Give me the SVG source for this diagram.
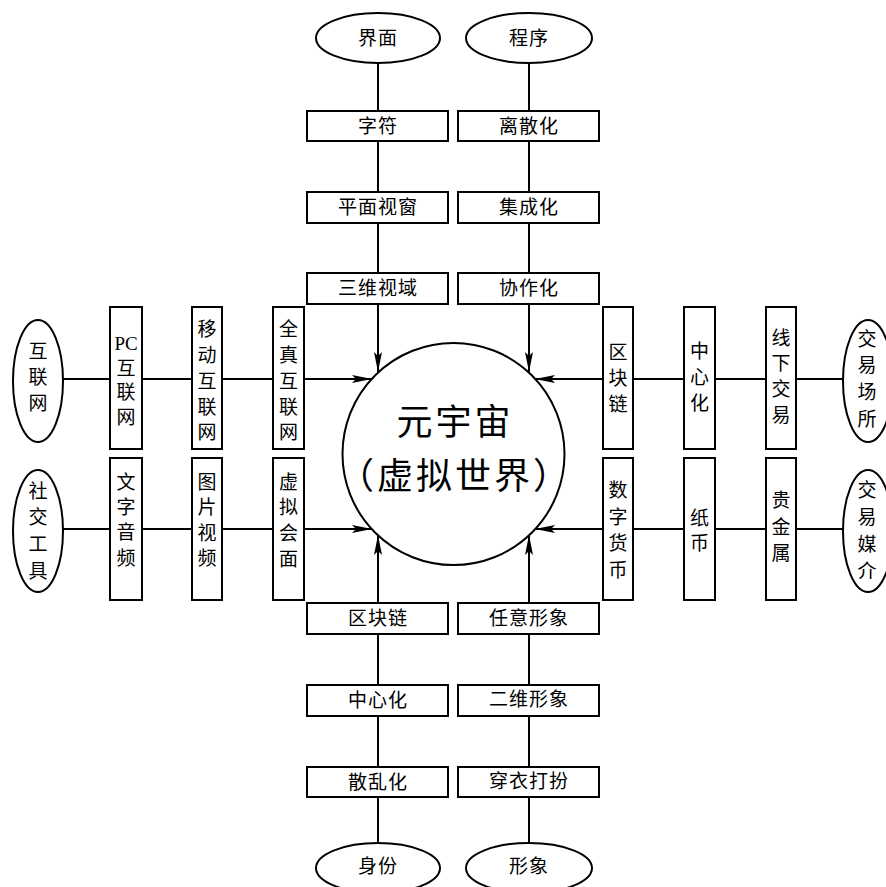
<svg xmlns="http://www.w3.org/2000/svg" width="886" height="887" viewBox="0 0 886 887">
<defs>
<style>
.s{fill:#fff;stroke:#000;stroke-width:2}
.c{stroke:#000;stroke-width:2;fill:none}
text{font-family:"Liberation Serif","Noto Sans CJK SC",serif;fill:#000;text-anchor:middle;dominant-baseline:central}
.t{font-size:19px;letter-spacing:1px}
.v{font-size:19px}
.big{font-size:36px;letter-spacing:3px}
</style>
<marker id="ar" viewBox="0 0 20 8" refX="20" refY="4" markerWidth="20" markerHeight="8" markerUnits="userSpaceOnUse" orient="auto">
<path d="M0,0 L20,4 L0,8 L4,4 Z" fill="#000"/>
</marker>
</defs>
<rect width="886" height="887" fill="#fff"/>
<g id="connectors">
<line class="c" x1="378" y1="63" x2="378" y2="111"/>
<line class="c" x1="378" y1="141" x2="378" y2="192"/>
<line class="c" x1="378" y1="223" x2="378" y2="273"/>
<line class="c" x1="378" y1="304" x2="378" y2="372" marker-end="url(#ar)"/>
<line class="c" x1="529" y1="63" x2="529" y2="111"/>
<line class="c" x1="529" y1="141" x2="529" y2="192"/>
<line class="c" x1="529" y1="223" x2="529" y2="273"/>
<line class="c" x1="529" y1="304" x2="529" y2="372" marker-end="url(#ar)"/>
<line class="c" x1="378" y1="842" x2="378" y2="797"/>
<line class="c" x1="378" y1="767" x2="378" y2="716"/>
<line class="c" x1="378" y1="685" x2="378" y2="634"/>
<line class="c" x1="378" y1="603" x2="378" y2="535" marker-end="url(#ar)"/>
<line class="c" x1="529" y1="842" x2="529" y2="797"/>
<line class="c" x1="529" y1="767" x2="529" y2="716"/>
<line class="c" x1="529" y1="685" x2="529" y2="634"/>
<line class="c" x1="529" y1="603" x2="529" y2="535" marker-end="url(#ar)"/>
<line class="c" x1="63" y1="379" x2="110" y2="379"/>
<line class="c" x1="142" y1="379" x2="192" y2="379"/>
<line class="c" x1="222" y1="379" x2="273" y2="379"/>
<line class="c" x1="304" y1="379" x2="372" y2="379" marker-end="url(#ar)"/>
<line class="c" x1="63" y1="529" x2="110" y2="529"/>
<line class="c" x1="142" y1="529" x2="192" y2="529"/>
<line class="c" x1="222" y1="529" x2="273" y2="529"/>
<line class="c" x1="304" y1="529" x2="372" y2="529" marker-end="url(#ar)"/>
<line class="c" x1="843" y1="379" x2="796" y2="379"/>
<line class="c" x1="766" y1="379" x2="715" y2="379"/>
<line class="c" x1="684" y1="379" x2="633" y2="379"/>
<line class="c" x1="603" y1="379" x2="535" y2="379" marker-end="url(#ar)"/>
<line class="c" x1="843" y1="529" x2="796" y2="529"/>
<line class="c" x1="766" y1="529" x2="715" y2="529"/>
<line class="c" x1="684" y1="529" x2="633" y2="529"/>
<line class="c" x1="603" y1="529" x2="535" y2="529" marker-end="url(#ar)"/>
</g>
<g id="center">
<circle class="s" cx="453.5" cy="454" r="111"/>
<text class="big" x="455" y="423">元宇宙</text>
<text class="big" x="455" y="477">（虚拟世界）</text>
</g>
<!-- top -->
<g id="jiemian"><ellipse class="s" cx="378" cy="38" rx="62" ry="25"/><text class="t" x="378" y="38">界面</text></g>
<g id="chengxu"><ellipse class="s" cx="529" cy="38" rx="63" ry="25"/><text class="t" x="529" y="38">程序</text></g>
<g id="zifu"><rect class="s" x="307" y="111" width="141" height="30"/><text class="t" x="378" y="126">字符</text></g>
<g id="lisanhua"><rect class="s" x="458" y="111" width="141" height="30"/><text class="t" x="529" y="126">离散化</text></g>
<g id="pingmianshichuang"><rect class="s" x="307" y="192" width="141" height="31"/><text class="t" x="378" y="207">平面视窗</text></g>
<g id="jichenghua"><rect class="s" x="458" y="192" width="141" height="31"/><text class="t" x="529" y="207">集成化</text></g>
<g id="sanweishiyu"><rect class="s" x="307" y="273" width="141" height="31"/><text class="t" x="378" y="288">三维视域</text></g>
<g id="xiezuohua"><rect class="s" x="458" y="273" width="141" height="31"/><text class="t" x="529" y="288">协作化</text></g>
<!-- bottom -->
<g id="qukuailian-b"><rect class="s" x="307" y="603" width="141" height="31"/><text class="t" x="378" y="618">区块链</text></g>
<g id="renyixingxiang"><rect class="s" x="458" y="603" width="141" height="31"/><text class="t" x="529" y="618">任意形象</text></g>
<g id="zhongxinhua-b"><rect class="s" x="307" y="685" width="141" height="31"/><text class="t" x="378" y="700">中心化</text></g>
<g id="erweixingxiang"><rect class="s" x="458" y="685" width="141" height="31"/><text class="t" x="529" y="699">二维形象</text></g>
<g id="sanluanhua"><rect class="s" x="307" y="767" width="141" height="30"/><text class="t" x="378" y="782">散乱化</text></g>
<g id="chuanyidaban"><rect class="s" x="458" y="767" width="141" height="30"/><text class="t" x="529" y="781">穿衣打扮</text></g>
<g id="shenfen"><ellipse class="s" cx="378" cy="868" rx="62" ry="25"/><text class="t" x="378" y="866">身份</text></g>
<g id="xingxiang"><ellipse class="s" cx="529" cy="868" rx="63" ry="25"/><text class="t" x="529" y="866">形象</text></g>
<!-- left -->
<g id="hulianwang"><ellipse class="s" cx="38" cy="381" rx="25" ry="61"/><text class="v" x="38"><tspan x="38" y="351">互</tspan><tspan x="38" y="377">联</tspan><tspan x="38" y="403">网</tspan></text></g>
<g id="shejiaogongju"><ellipse class="s" cx="38" cy="531" rx="25" ry="61"/><text class="v"><tspan x="38" y="491">社</tspan><tspan x="38" y="517">交</tspan><tspan x="38" y="544">工</tspan><tspan x="38" y="571">具</tspan></text></g>
<g id="pchulianwang"><rect class="s" x="110" y="307" width="32" height="142"/><text class="v"><tspan x="126" y="343">PC</tspan><tspan x="126" y="368">互</tspan><tspan x="126" y="392">联</tspan><tspan x="126" y="417">网</tspan></text></g>
<g id="yidonghulianwang"><rect class="s" x="192" y="307" width="30" height="142"/><text class="v"><tspan x="207" y="329">移</tspan><tspan x="207" y="355">动</tspan><tspan x="207" y="381">互</tspan><tspan x="207" y="407">联</tspan><tspan x="207" y="432">网</tspan></text></g>
<g id="quanzhenhulianwang"><rect class="s" x="273" y="307" width="31" height="142"/><text class="v"><tspan x="288.5" y="329">全</tspan><tspan x="288.5" y="355">真</tspan><tspan x="288.5" y="381">互</tspan><tspan x="288.5" y="407">联</tspan><tspan x="288.5" y="432">网</tspan></text></g>
<g id="wenziyinpin"><rect class="s" x="110" y="458" width="32" height="142"/><text class="v"><tspan x="126" y="482">文</tspan><tspan x="126" y="507">字</tspan><tspan x="126" y="532">音</tspan><tspan x="126" y="558">频</tspan></text></g>
<g id="tupianshipin"><rect class="s" x="192" y="458" width="30" height="142"/><text class="v"><tspan x="207" y="482">图</tspan><tspan x="207" y="507">片</tspan><tspan x="207" y="533">视</tspan><tspan x="207" y="558">频</tspan></text></g>
<g id="xunihuimian"><rect class="s" x="273" y="458" width="31" height="142"/><text class="v"><tspan x="288.5" y="482">虚</tspan><tspan x="288.5" y="507">拟</tspan><tspan x="288.5" y="533">会</tspan><tspan x="288.5" y="559">面</tspan></text></g>
<!-- right -->
<g id="qukuailian-r"><rect class="s" x="603" y="307" width="30" height="142"/><text class="v"><tspan x="618" y="352">区</tspan><tspan x="618" y="378">块</tspan><tspan x="618" y="404">链</tspan></text></g>
<g id="zhongxinhua-r"><rect class="s" x="684" y="307" width="31" height="142"/><text class="v"><tspan x="699.5" y="351">中</tspan><tspan x="699.5" y="377">心</tspan><tspan x="699.5" y="403">化</tspan></text></g>
<g id="xianxiajiaoyi"><rect class="s" x="766" y="307" width="30" height="142"/><text class="v"><tspan x="781" y="338">线</tspan><tspan x="781" y="363">下</tspan><tspan x="781" y="389">交</tspan><tspan x="781" y="415">易</tspan></text></g>
<g id="jiaoyichangsuo"><ellipse class="s" cx="868" cy="381" rx="25" ry="61"/><text class="v"><tspan x="867" y="339">交</tspan><tspan x="867" y="365">易</tspan><tspan x="867" y="392">场</tspan><tspan x="867" y="419">所</tspan></text></g>
<g id="shuzihuobi"><rect class="s" x="603" y="458" width="30" height="142"/><text class="v"><tspan x="618" y="490">数</tspan><tspan x="618" y="517">字</tspan><tspan x="618" y="543">货</tspan><tspan x="618" y="570">币</tspan></text></g>
<g id="zhibi"><rect class="s" x="684" y="458" width="31" height="142"/><text class="v"><tspan x="699.5" y="518">纸</tspan><tspan x="699.5" y="543">币</tspan></text></g>
<g id="guijinshu"><rect class="s" x="766" y="458" width="30" height="142"/><text class="v"><tspan x="781" y="500">贵</tspan><tspan x="781" y="527">金</tspan><tspan x="781" y="553">属</tspan></text></g>
<g id="jiaoyimeijie"><ellipse class="s" cx="868" cy="531" rx="25" ry="61"/><text class="v"><tspan x="867" y="490">交</tspan><tspan x="867" y="517">易</tspan><tspan x="867" y="544">媒</tspan><tspan x="867" y="571">介</tspan></text></g>
</svg>
